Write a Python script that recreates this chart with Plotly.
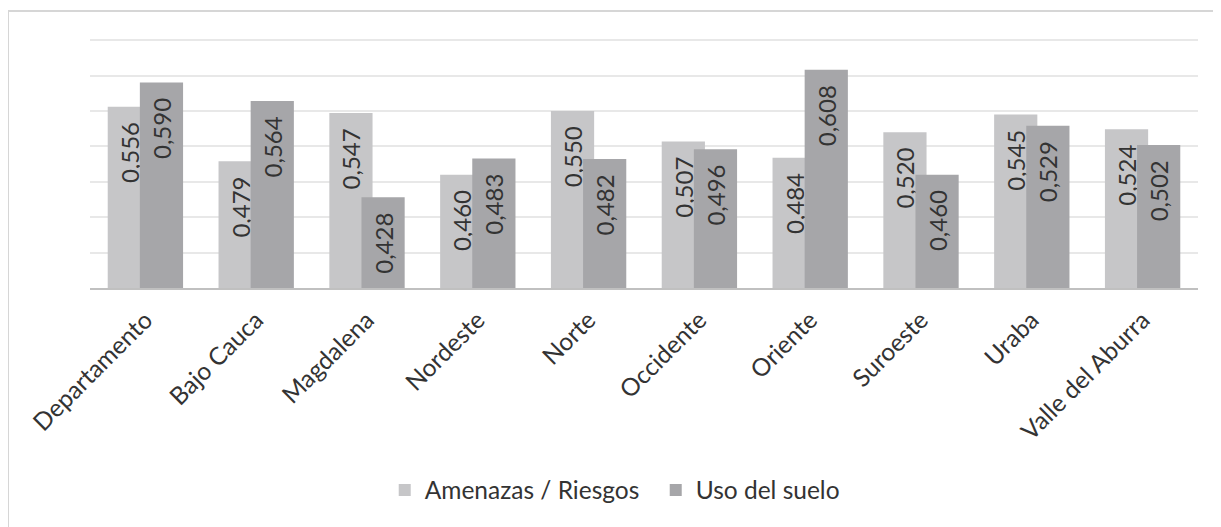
import plotly.graph_objects as go

categories = ["Departamento", "Bajo Cauca", "Magdalena", "Nordeste", "Norte",
              "Occidente", "Oriente", "Suroeste", "Uraba", "Valle del Aburra"]
amenazas = [0.556, 0.479, 0.547, 0.460, 0.550, 0.507, 0.484, 0.520, 0.545, 0.524]
uso_suelo = [0.590, 0.564, 0.428, 0.483, 0.482, 0.496, 0.608, 0.460, 0.529, 0.502]

series_names = ["Amenazas / Riesgos", "Uso del suelo"]
colors = ["#c6c6c8", "#a6a6a9"]

FONT = "Lato"

def fmt(v):
    return f"{v:.3f}".replace(".", ",") + "\u00a0\u00a0"

fig = go.Figure()
for name, vals, col, off in [(series_names[0], amenazas, colors[0], -0.34),
                             (series_names[1], uso_suelo, colors[1], -0.05)]:
    fig.add_trace(go.Bar(
        x=categories, y=vals, name=name,
        marker=dict(color=col, line=dict(width=0)),
        width=0.39, offset=off,
        text=[fmt(v) for v in vals],
        textposition="inside", insidetextanchor="end", textangle=-90,
        textfont=dict(family=FONT, size=24, color="#333333"),
        cliponaxis=False,
    ))

# page has an 8px body margin, so the figure is sized to sit inside the window
fig.update_layout(
    barmode="overlay",
    width=1213, height=519,
    margin=dict(l=82, r=23, t=25, b=239, autoexpand=False),
    paper_bgcolor="white", plot_bgcolor="white",
    showlegend=True,
    legend=dict(orientation="h", x=0.266, xanchor="left", y=-0.792, yanchor="middle",
                font=dict(family=FONT, size=24.5, color="#333333"),
                itemsizing="constant", traceorder="normal", itemwidth=30,
                entrywidth=226),
)
fig.update_xaxes(
    tickangle=-45, tickfont=dict(family=FONT, size=24.5, color="#333333"),
    showline=True, linecolor="#c0c0c0", linewidth=2, showgrid=False,
    ticks="", ticklabelstandoff=6, automargin=False,
)
fig.update_yaxes(
    range=[0.30, 0.66], dtick=0.05, showticklabels=False,
    showgrid=True, gridcolor="#e8e8e8", gridwidth=2, zeroline=False,
    automargin=False,
)
# chart border lines (left and top)
fig.add_shape(type="line", xref="paper", yref="paper",
              x0=-0.074, x1=-0.074, y0=1.086, y1=-0.95,
              line=dict(color="#d6d6d6", width=2))
fig.add_shape(type="line", xref="paper", yref="paper",
              x0=-0.074, x1=1.03, y0=1.086, y1=1.086,
              line=dict(color="#d6d6d6", width=2))

fig.write_html("out.html")
